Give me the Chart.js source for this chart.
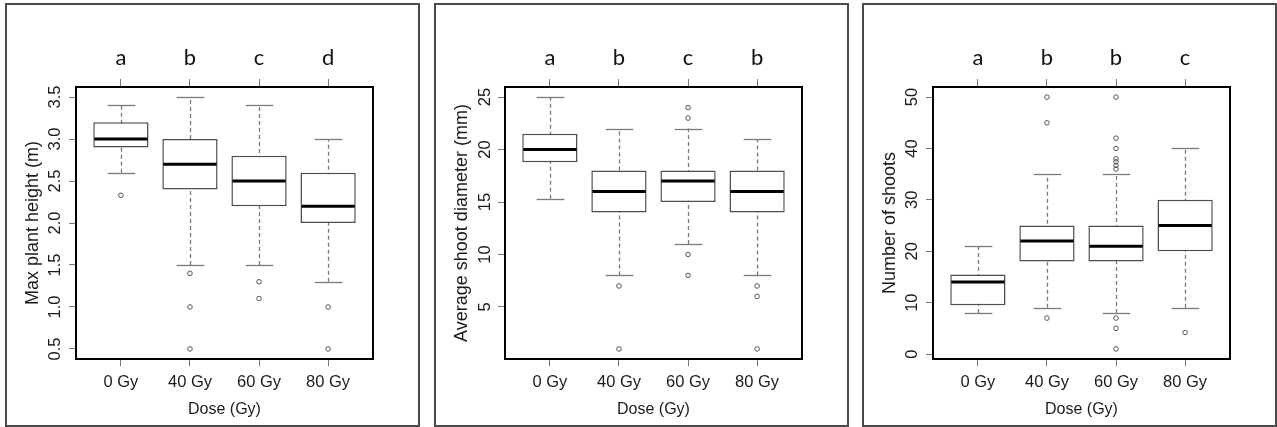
<!DOCTYPE html>
<html>
<head>
<meta charset="utf-8">
<script src="https://cdn.jsdelivr.net/npm/chart.js@4.4.1/dist/chart.umd.min.js"></script>
<style>
  body { margin: 0; background: #fff; width: 1277px; height: 427px; position: relative; overflow: hidden; }
  .panel { position: absolute; top: 3px; width: 411px; height: 420px; border: 2px solid #4a4a4a; }
  .panel canvas { display: block; }
</style>
</head>
<body>
<div class="panel" style="left:5px"><canvas id="heightChart" width="411" height="420"></canvas></div>
<div class="panel" style="left:434px"><canvas id="diameterChart" width="411" height="420"></canvas></div>
<div class="panel" style="left:862px"><canvas id="shootsChart" width="411" height="420"></canvas></div>
<script>
const doses = ['0 Gy', '40 Gy', '60 Gy', '80 Gy'];

// max plant height (m)
const heightLetters = ['a', 'b', 'c', 'd'];
const heightLow = [2.6, 1.5, 1.5, 1.3];
const heightQ1 = [2.9, 2.4, 2.2, 2.0];
const heightMed = [3.0, 2.7, 2.5, 2.2];
const heightQ3 = [3.2, 3.0, 2.8, 2.6];
const heightHigh = [3.4, 3.5, 3.4, 3.0];
const heightOut = [[2.33], [1.4, 1.0, 0.5], [1.3, 1.1], [1.0, 0.5]];
const heightTicks = [0.5, 1.0, 1.5, 2.0, 2.5, 3.0, 3.5];

// average shoot diameter (mm)
const diamLetters = ['a', 'b', 'c', 'b'];
const diamLow = [15.3, 8, 11, 8];
const diamQ1 = [18.8, 14, 15, 14];
const diamMed = [20, 16, 17, 16];
const diamQ3 = [21.5, 18, 18, 18];
const diamHigh = [25, 22, 22, 21];
const diamOut = [[], [7, 1], [24, 23, 10, 8], [7, 6, 1]];
const diamTicks = [5, 10, 15, 20, 25];

// number of shoots
const shootLetters = ['a', 'b', 'b', 'c'];
const shootLow = [8, 9, 8, 9];
const shootQ1 = [9.5, 18, 18, 20];
const shootMed = [14, 22, 21, 25];
const shootQ3 = [15.5, 25, 25, 30];
const shootHigh = [21, 35, 35, 40];
const shootOut = [[], [50, 45, 7], [50, 42, 40, 38, 37.4, 36.7, 36, 7, 5, 1], [4.2]];
const shootTicks = [0, 10, 20, 30, 40, 50];

const textColor = '#1a1a1a';

function boxParts(low, med, high) {
  return {
    id: 'boxParts',
    beforeDatasetsDraw(chart) {
      const { ctx } = chart;
      const x = chart.scales.x;
      const y = chart.scales.y;
      const half = x.getPixelForValue(1.2) - x.getPixelForValue(1);
      ctx.save();
      ctx.strokeStyle = '#7a7a7a';
      ctx.lineWidth = 1.3;
      low.forEach((v, i) => {
        const px = Math.round(x.getPixelForValue(i + 1)) + 0.5;
        ctx.setLineDash([4, 3]);
        ctx.beginPath();
        ctx.moveTo(px, y.getPixelForValue(v));
        ctx.lineTo(px, y.getPixelForValue(high[i]));
        ctx.stroke();
        ctx.setLineDash([]);
        [v, high[i]].forEach(w => {
          const py = Math.round(y.getPixelForValue(w)) + 0.5;
          ctx.beginPath();
          ctx.moveTo(px - half, py);
          ctx.lineTo(px + half, py);
          ctx.stroke();
        });
      });
      ctx.restore();
    },
    afterDatasetsDraw(chart) {
      const { ctx, chartArea } = chart;
      const x = chart.scales.x;
      const y = chart.scales.y;
      const half = x.getPixelForValue(1.4) - x.getPixelForValue(1) - 1;
      ctx.save();
      ctx.strokeStyle = '#000';
      ctx.lineWidth = 3;
      med.forEach((v, i) => {
        const px = x.getPixelForValue(i + 1);
        const py = y.getPixelForValue(v);
        ctx.beginPath();
        ctx.moveTo(px - half, py);
        ctx.lineTo(px + half, py);
        ctx.stroke();
      });
      ctx.lineWidth = 2;
      ctx.strokeRect(chartArea.left, chartArea.top, chartArea.right - chartArea.left, chartArea.bottom - chartArea.top);
      ctx.restore();
    }
  };
}

function makeBox(id, title, letters, low, q1, med, q3, high, out, ticks, yMin, yMax, fmt, yPad) {
  const boxes = doses.map((d, i) => ({ x: i + 1, y: [q1[i], q3[i]] }));
  const outliers = [];
  out.forEach((arr, i) => arr.forEach(v => outliers.push({ x: i + 1, y: v })));

  return new Chart(document.getElementById(id), {
    type: 'bar',
    data: {
      datasets: [
        {
          data: boxes,
          backgroundColor: '#fff',
          borderColor: '#4d4d4d',
          borderWidth: 1.5,
          borderSkipped: false,
          barPercentage: 1,
          categoryPercentage: 0.8,
        },
        {
          type: 'scatter',
          data: outliers,
          pointRadius: 2.3,
          pointBorderWidth: 1,
          pointBorderColor: '#555',
          pointBackgroundColor: 'rgba(0,0,0,0)',
        },
      ],
    },
    options: {
      responsive: false,
      animation: false,
      devicePixelRatio: 1,
      layout: { padding: { left: 0, right: 45, top: 0, bottom: 0 } },
      plugins: { legend: { display: false }, tooltip: { enabled: false } },
      scales: {
        x: {
          type: 'linear',
          position: 'bottom',
          offset: false,
          min: 0.35,
          max: 4.65,
          afterBuildTicks: s => { s.ticks = doses.map((d, i) => ({ value: i + 1 })); },
          afterFit: s => { s.height = 66; },
          ticks: {
            callback: v => doses[v - 1],
            autoSkip: false,
            maxRotation: 0,
            padding: 6.4,
            color: textColor,
            font: { family: 'Liberation Sans', size: 16.5 },
          },
          grid: { offset: false, drawOnChartArea: false, tickLength: 7, tickColor: '#777', tickWidth: 1 },
          border: { display: false },
          title: {
            display: true,
            text: 'Dose (Gy)',
            color: textColor,
            font: { family: 'Liberation Sans', size: 16 },
            padding: { top: 0, bottom: 5.5 },
          },
        },
        x2: {
          type: 'linear',
          position: 'top',
          offset: false,
          min: 0.35,
          max: 4.65,
          afterBuildTicks: s => { s.ticks = letters.map((d, i) => ({ value: i + 1 })); },
          afterFit: s => { s.height = 82; },
          ticks: {
            callback: v => letters[v - 1],
            autoSkip: false,
            maxRotation: 0,
            padding: 7.8,
            color: '#111',
            font: { family: 'Lato', size: 22 },
          },
          grid: { offset: false, drawOnChartArea: false, tickLength: 8, tickColor: '#777', tickWidth: 1 },
          border: { display: false },
        },
        y: {
          min: yMin,
          max: yMax,
          afterBuildTicks: s => { s.ticks = ticks.map(v => ({ value: v })); },
          afterFit: s => { s.width = 69; },
          ticks: {
            callback: fmt,
            minRotation: 90,
            maxRotation: 90,
            crossAlign: 'center',
            padding: yPad,
            color: textColor,
            font: { family: 'Liberation Sans', size: 16.5 },
          },
          grid: { drawOnChartArea: false, tickLength: 7, tickColor: '#777', tickWidth: 1 },
          border: { display: false },
          title: {
            display: true,
            text: title,
            color: textColor,
            font: { family: 'Liberation Sans', size: 18 },
            padding: { top: 15, bottom: 0 },
          },
        },
      },
    },
    plugins: [boxParts(low, med, high)],
  });
}

makeBox('heightChart', 'Max plant height (m)', heightLetters, heightLow, heightQ1, heightMed, heightQ3, heightHigh,
  heightOut, heightTicks, 0.38, 3.62, v => v.toFixed(1), 2.5);
makeBox('diameterChart', 'Average shoot diameter (mm)', diamLetters, diamLow, diamQ1, diamMed, diamQ3, diamHigh,
  diamOut, diamTicks, 0.04, 25.96, v => String(v), 3.8);
makeBox('shootsChart', 'Number of shoots', shootLetters, shootLow, shootQ1, shootMed, shootQ3, shootHigh,
  shootOut, shootTicks, -0.96, 51.96, v => String(v), 4.8);
</script>
</body>
</html>
